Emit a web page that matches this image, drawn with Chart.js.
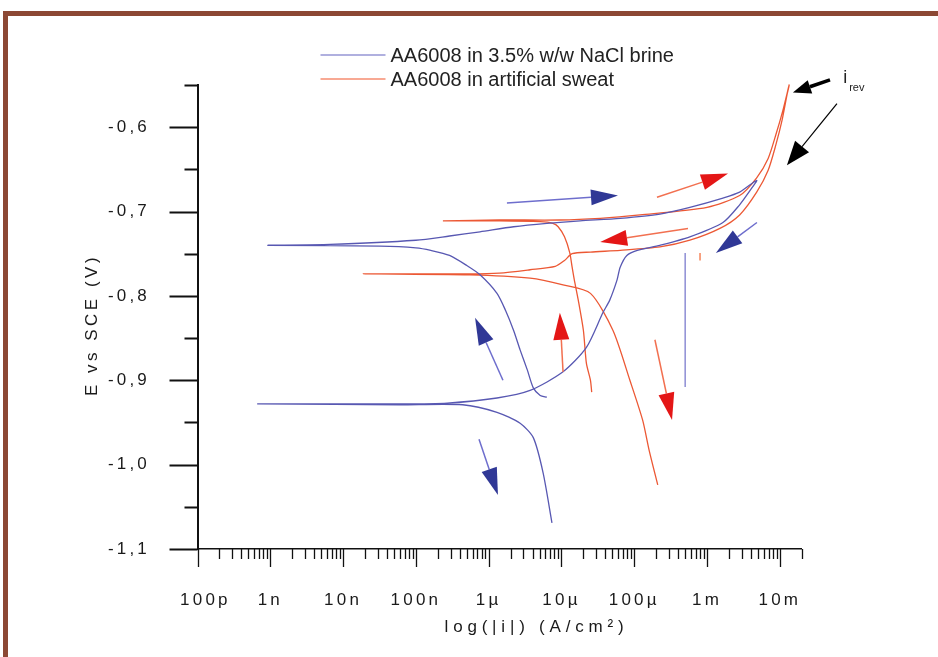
<!DOCTYPE html>
<html>
<head>
<meta charset="utf-8">
<script src="https://cdn.jsdelivr.net/npm/chart.js@4.4.1/dist/chart.umd.min.js"></script>
<style>
  html, body { margin: 0; padding: 0; background: #fff; overflow: hidden; }
  #wrap { position: relative; width: 938px; height: 657px; }
  #frame { position: absolute; left: 3px; top: 11px; width: 980px; height: 700px;
           border-top: 5px solid #8c4834; border-left: 5px solid #8c4834; }
  #chart { position: absolute; left: 0; top: 0; }
</style>
</head>
<body>
<div id="wrap">
  <div id="frame"></div>
  <canvas id="chart" width="938" height="657"></canvas>
</div>
<script>
// polarisation curves, current density (A/cm2) vs potential (V vs SCE)
const brineCurrent = [6.3e-6, 5.1e-6, 4.1e-6, 3.4e-6, 2.7e-6, 2.2e-6, 1.7e-6, 1.3e-6, 7.6e-7, 5.0e-7,
  2.9e-7, 1.6e-7, 1.0e-7, 3.2e-8, 9.3e-10, 6.6e-9, 1.0e-7, 2.9e-7, 7.6e-7, 2.2e-6,
  6.3e-6, 1.8e-5, 6.4e-5, 2.25e-4, 5.8e-4, 1.65e-3, 2.8e-3, 4.8e-3, 3.9e-3, 2.8e-3,
  1.65e-3, 5.8e-4, 2.25e-4, 1.1e-4, 7.9e-5, 6.4e-5, 5.8e-5, 4.6e-5, 3.7e-5, 2.2e-5,
  1.05e-5, 3.7e-6, 1.3e-6, 2.7e-7, 6.0e-8, 6.6e-10, 6.0e-8, 4.4e-7, 1.3e-6, 2.7e-6,
  4.1e-6, 5.6e-6, 7.4e-6];
const brinePotential = [-0.920, -0.918, -0.909, -0.888, -0.864, -0.841, -0.817, -0.797, -0.775, -0.764,
  -0.752, -0.746, -0.743, -0.741, -0.740, -0.739, -0.734, -0.729, -0.724, -0.718,
  -0.714, -0.711, -0.708, -0.703, -0.695, -0.684, -0.677, -0.663, -0.675, -0.692,
  -0.713, -0.730, -0.740, -0.746, -0.752, -0.766, -0.781, -0.805, -0.820, -0.861,
  -0.890, -0.912, -0.921, -0.927, -0.928, -0.928, -0.929, -0.929, -0.938, -0.951,
  -0.968, -1.010, -1.069];

const sweatCurrent = [2.6e-5, 2.5e-5, 2.2e-5, 2.0e-5, 1.7e-5, 1.5e-5, 1.4e-5, 1.3e-5, 1.1e-5, 9.0e-6,
  7.6e-6, 5.1e-6, 1.4e-6, 2.35e-7, 1.4e-6, 9.5e-6, 3.4e-5, 1.2e-4, 1.0e-3, 2.8e-3,
  4.8e-3, 6.9e-3, 8.8e-3, 1.1e-2, 1.34e-2, 1.25e-2, 1.07e-2, 8.8e-3, 6.9e-3, 4.8e-3,
  2.8e-3, 1.5e-3, 5.8e-4, 2.25e-4, 6.4e-5, 2.5e-5, 1.4e-5, 1.1e-5, 8.2e-6, 3.7e-6,
  1.4e-6, 5.5e-7, 1.9e-8, 5.5e-7, 3.7e-6, 1.05e-5, 2.5e-5, 5.1e-5, 8.7e-5, 1.3e-4,
  1.6e-4, 2.1e-4];
const sweatPotential = [-0.914, -0.900, -0.880, -0.841, -0.805, -0.781, -0.766, -0.749, -0.730, -0.718,
  -0.714, -0.712, -0.711, -0.711, -0.710, -0.710, -0.708, -0.704, -0.695, -0.681,
  -0.660, -0.637, -0.609, -0.580, -0.550, -0.562, -0.592, -0.621, -0.651, -0.677,
  -0.704, -0.720, -0.734, -0.742, -0.746, -0.748, -0.750, -0.758, -0.765, -0.769,
  -0.773, -0.774, -0.774, -0.775, -0.779, -0.787, -0.797, -0.841, -0.900, -0.947,
  -0.983, -1.024];

// short stray segments in the original plot
const brineSpikeCurrent = [5.0e-4, 5.0e-4];
const brineSpikePotential = [-0.749, -0.908];
const sweatSpikeCurrent = [8.0e-4, 8.0e-4];
const sweatSpikePotential = [-0.749, -0.758];

const decadeLabels = ['  100p', '1n', '10n', '100n', '1µ', '10µ', '100µ', '1m', '10m'];

// scan direction arrows: [from current, from potential, to current, to potential]
const blueArrows = [
  [1.78e-6, -0.690, 5.97e-5, -0.681],
  [4.84e-3, -0.713, 1.32e-3, -0.749],
  [1.57e-6, -0.900, 6.5e-7, -0.826],
  [7.36e-7, -0.970, 1.34e-6, -1.036]
];
const redArrows = [
  [2.05e-4, -0.683, 1.94e-3, -0.655],
  [5.47e-4, -0.720, 3.4e-5, -0.736],
  [1.05e-5, -0.890, 9.5e-6, -0.820],
  [1.92e-4, -0.852, 3.30e-4, -0.947]
];
const blackArrows = [
  [4.88e-2, -0.544, 1.51e-2, -0.559],
  [6.08e-2, -0.572, 1.25e-2, -0.645]
];
const revLabelAt = [7.4e-2, -0.542];

const BLUE = 'rgb(88, 88, 178)';
const RED = 'rgb(236, 88, 52)';
const FONT = '"Liberation Sans", Arial, sans-serif';

function toPoints(xs, ys) {
  return xs.map((v, i) => ({ x: v, y: ys[i] }));
}

function isDecade(v) {
  const l = Math.log10(v);
  return Math.abs(l - Math.round(l)) < 1e-6;
}

// x ticks: 1..9 per decade from 100p up to 20m
const xTickValues = [];
for (let e = -10; e <= -2; e++) {
  for (let m = 1; m <= 9; m++) {
    const v = m * Math.pow(10, e);
    if (v <= 2.0001e-2) xTickValues.push(v);
  }
}
const yTickValues = [];
for (let k = 0; k <= 11; k++) yTickValues.push(Math.round((-1.1 + k * 0.05) * 100) / 100);

function drawArrow(ctx, x0, y0, x1, y1, lineColor, headColor, lineW, headL, headW) {
  const a = Math.atan2(y1 - y0, x1 - x0);
  const bx = x1 - headL * Math.cos(a), by = y1 - headL * Math.sin(a);
  ctx.strokeStyle = lineColor;
  ctx.lineWidth = lineW;
  ctx.beginPath();
  ctx.moveTo(x0, y0);
  ctx.lineTo(bx, by);
  ctx.stroke();
  ctx.fillStyle = headColor;
  ctx.beginPath();
  ctx.moveTo(x1, y1);
  ctx.lineTo(bx + headW * Math.sin(a), by - headW * Math.cos(a));
  ctx.lineTo(bx - headW * Math.sin(a), by + headW * Math.cos(a));
  ctx.closePath();
  ctx.fill();
}

const spacing = {
  id: 'spacing',
  beforeDraw(chart) { chart.ctx.letterSpacing = '3.2px'; }
};

const decorations = {
  id: 'decorations',
  afterDatasetsDraw(chart) {
    const { ctx, scales: { x, y } } = chart;
    const px = v => x.getPixelForValue(v), py = v => y.getPixelForValue(v);
    ctx.save();
    blueArrows.forEach(a => drawArrow(ctx, px(a[0]), py(a[1]), px(a[2]), py(a[3]),
      'rgb(110,110,205)', 'rgb(48,56,150)', 1.5, 27, 8));
    redArrows.forEach(a => drawArrow(ctx, px(a[0]), py(a[1]), px(a[2]), py(a[3]),
      'rgb(242,112,80)', 'rgb(228,22,22)', 1.5, 27, 8));
    drawArrow(ctx, px(blackArrows[0][0]), py(blackArrows[0][1]), px(blackArrows[0][2]), py(blackArrows[0][3]),
      '#000', '#000', 3.5, 18, 7);
    drawArrow(ctx, px(blackArrows[1][0]), py(blackArrows[1][1]), px(blackArrows[1][2]), py(blackArrows[1][3]),
      '#000', '#000', 1.2, 24, 9);
    ctx.restore();
  },
  afterDraw(chart) {
    const { ctx, chartArea: ca, scales: { x, y } } = chart;
    ctx.save();
    // tick marks, long on labelled ticks
    ctx.strokeStyle = '#111';
    ctx.lineWidth = 1.8;
    ctx.beginPath();
    y.ticks.forEach(t => {
      const p = Math.round(y.getPixelForValue(t.value)) + 0.5;
      const len = t.label ? 28 : 13;
      ctx.moveTo(ca.left - len, p);
      ctx.lineTo(ca.left, p);
    });
    ctx.stroke();
    ctx.lineWidth = 1.3;
    ctx.beginPath();
    x.ticks.forEach(t => {
      const p = Math.round(x.getPixelForValue(t.value)) + 0.5;
      const len = t.label ? 18 : 10;
      ctx.moveTo(p, ca.bottom);
      ctx.lineTo(p, ca.bottom + len);
    });
    ctx.stroke();

    // axis titles
    ctx.fillStyle = '#1a1a1a';
    ctx.textAlign = 'center';
    ctx.textBaseline = 'middle';
    ctx.font = '17px ' + FONT;
    ctx.letterSpacing = '4.8px';
    ctx.fillText('log(|i|) (A/cm²)', ca.left + 339, ca.bottom + 78);
    ctx.letterSpacing = '3.5px';
    ctx.save();
    ctx.translate(ca.left - 105, ca.top + 240);
    ctx.rotate(-Math.PI / 2);
    ctx.fillText('E vs SCE (V)', 0, 0);
    ctx.restore();

    // legend
    ctx.letterSpacing = '0px';
    ctx.textAlign = 'left';
    ctx.font = '20px ' + FONT;
    const legendItems = [['rgb(150,150,212)', chart.data.datasets[0].label],
                         ['rgb(246,140,112)', chart.data.datasets[1].label]];
    legendItems.forEach((it, i) => {
      const ly = 55 + i * 24;
      ctx.strokeStyle = it[0];
      ctx.lineWidth = 1.5;
      ctx.beginPath();
      ctx.moveTo(ca.left + 123, ly);
      ctx.lineTo(ca.left + 188, ly);
      ctx.stroke();
      ctx.fillStyle = '#222';
      ctx.fillText(it[1], ca.left + 193, ly + 1);
    });

    // i_rev label
    const rx = x.getPixelForValue(revLabelAt[0]), ry = y.getPixelForValue(revLabelAt[1]);
    ctx.font = '18px ' + FONT;
    ctx.fillText('i', rx, ry);
    ctx.font = '11px ' + FONT;
    ctx.fillText('rev', rx + 6, ry + 10);
    ctx.restore();
  }
};

new Chart(document.getElementById('chart'), {
  type: 'scatter',
  data: {
    datasets: [
      { label: 'AA6008 in 3.5% w/w NaCl brine', data: toPoints(brineCurrent, brinePotential),
        borderColor: BLUE, borderWidth: 1.3, showLine: true, pointRadius: 0, clip: false, tension: 0.25 },
      { label: 'AA6008 in artificial sweat', data: toPoints(sweatCurrent, sweatPotential),
        borderColor: RED, borderWidth: 1.3, showLine: true, pointRadius: 0, clip: false, tension: 0.25 },
      { label: '', data: toPoints(brineSpikeCurrent, brineSpikePotential),
        borderColor: 'rgb(150,150,215)', borderWidth: 1.6, showLine: true, pointRadius: 0 },
      { label: '', data: toPoints(sweatSpikeCurrent, sweatSpikePotential),
        borderColor: 'rgb(246,140,100)', borderWidth: 1.6, showLine: true, pointRadius: 0 }
    ]
  },
  options: {
    responsive: false,
    animation: false,
    layout: { padding: { left: 0, right: 136.2, top: 85, bottom: 0 } },
    plugins: { legend: { display: false }, tooltip: { enabled: false } },
    scales: {
      x: {
        type: 'logarithmic',
        min: 1e-10,
        max: 2e-2,
        afterBuildTicks: scale => { scale.ticks = xTickValues.map(v => ({ value: v })); },
        afterFit: scale => { scale.height = 108; },
        grid: { display: false, drawTicks: false },
        border: { display: true, color: '#111', width: 1.5 },
        ticks: {
          autoSkip: false, maxRotation: 0, padding: 41, color: '#1a1a1a',
          font: { family: FONT, size: 17 },
          callback: v => isDecade(v) ? decadeLabels[Math.round(Math.log10(v)) + 10] : ''
        }
      },
      y: {
        min: -1.1,
        max: -0.55,
        afterBuildTicks: scale => { scale.ticks = yTickValues.map(v => ({ value: v })); },
        afterFit: scale => { scale.width = 197.5; },
        grid: { display: false, drawTicks: false },
        border: { display: true, color: '#111', width: 2 },
        ticks: {
          autoSkip: false, padding: 47.5, color: '#1a1a1a',
          font: { family: FONT, size: 17 },
          callback: v => Math.abs(v * 10 - Math.round(v * 10)) < 1e-6 ? v.toFixed(1).replace('.', ',') : ''
        }
      }
    }
  },
  plugins: [spacing, decorations]
});
</script>
</body>
</html>
